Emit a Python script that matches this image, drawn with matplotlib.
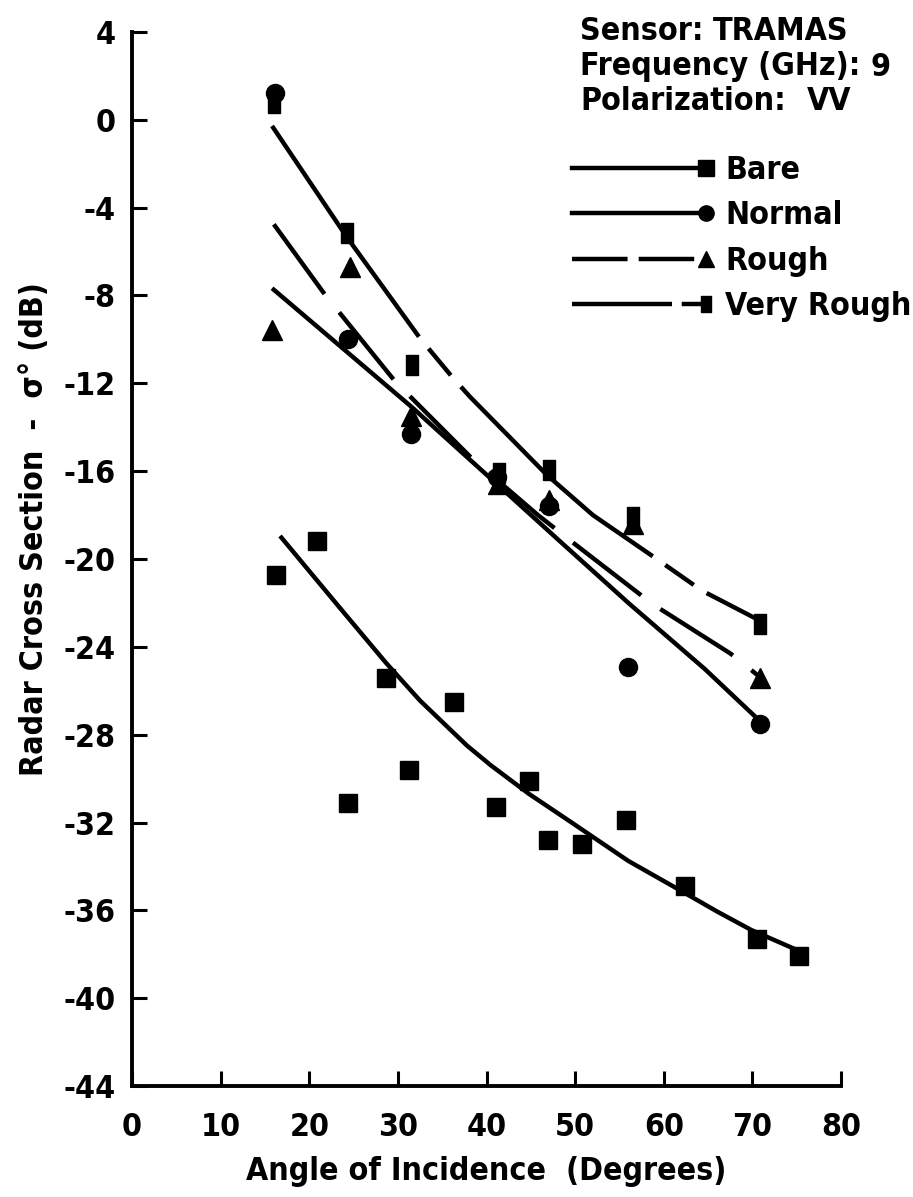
import matplotlib
matplotlib.use('Agg')
import matplotlib.pyplot as plt
from matplotlib.lines import Line2D

plt.rcParams['font.family'] = ['DejaVu Sans']
plt.rcParams['font.stretch'] = 'condensed'
plt.rcParams['font.weight'] = 'bold'
plt.rcParams['axes.labelweight'] = 'bold'
plt.rcParams['axes.unicode_minus'] = False
plt.rcParams['lines.scale_dashes'] = False

# measured points (angle in degrees, sigma0 in dB)
bare_x = [16.3, 20.9, 24.4, 28.7, 31.3, 36.3, 41.1, 44.8, 46.9, 50.8, 55.7, 62.4, 70.5, 75.3]
bare_y = [-20.75, -19.2, -31.1, -25.4, -29.6, -26.5, -31.3, -30.1, -32.8, -33.0, -31.9, -34.9, -37.3, -38.1]

normal_x = [16.1, 24.4, 31.5, 41.2, 47.1, 56.0, 70.9]
normal_y = [1.2, -10.0, -14.3, -16.25, -17.6, -24.9, -27.5]

rough_x = [15.8, 24.6, 31.5, 41.3, 47.1, 56.5, 70.9]
rough_y = [-9.55, -6.7, -13.5, -16.6, -17.3, -18.4, -25.4]

vrough_x = [16.0, 24.3, 31.6, 41.4, 47.0, 56.5, 70.9]
vrough_y = [0.75, -5.17, -11.16, -16.1, -15.95, -18.1, -22.94]

# fitted curves
bare_fit_x = [16.7, 20.0, 23.4, 28.7, 32.5, 37.8, 40.5, 44.8, 49.6, 56.0, 61.9, 66.0, 69.9, 75.0]
bare_fit_y = [-18.95, -20.55, -22.2, -24.75, -26.45, -28.5, -29.4, -30.7, -32.0, -33.75, -35.1, -36.05, -36.9, -37.8]

normal_fit_x = [15.8, 22.3, 31.5, 41.2, 48.3, 56.0, 64.6, 70.9]
normal_fit_y = [-7.67, -9.9, -13.06, -16.6, -19.2, -22.0, -25.0, -27.4]

rough_fit_x = [16.0, 21.8, 29.7, 38.3, 45.8, 49.9, 57.6, 59.5, 67.5, 69.1, 71.5]
rough_fit_y = [-4.76, -7.98, -11.92, -15.4, -18.0, -19.3, -21.7, -22.25, -24.3, -24.8, -25.6]

vrough_fit_x = [15.8, 24.2, 32.5, 36.1, 38.1, 46.8, 52.0, 59.2, 64.3, 71.0]
vrough_fit_y = [-0.28, -5.32, -9.95, -11.7, -12.6, -16.17, -18.0, -20.0, -21.44, -22.84]

labels = ['Bare', 'Normal', 'Rough', 'Very Rough']
xticks = list(range(0, 81, 10))
yticks = list(range(-44, 5, 4))

lw = 3.2
fs = 23
rough_dash = (62, 17)
vrough_dash = (185, 11, 25, 11)
vr_marker = [(-0.65, -1), (0.65, -1), (0.65, 1), (-0.65, 1), (-0.65, -1)]

fig = plt.figure(figsize=(9.13, 11.97), dpi=100)
ax = fig.add_axes([0.1446, 0.0927, 0.7766, 0.8806])

ax.plot(bare_fit_x, bare_fit_y, color='k', lw=lw, solid_capstyle='butt', solid_joinstyle='round')
ax.plot(normal_fit_x, normal_fit_y, color='k', lw=lw, solid_capstyle='butt', solid_joinstyle='round')
ax.plot(rough_fit_x, rough_fit_y, color='k', lw=lw, dashes=rough_dash, dash_capstyle='butt')
ax.plot(vrough_fit_x, vrough_fit_y, color='k', lw=lw, dashes=vrough_dash, dash_capstyle='butt')

ax.plot(bare_x, bare_y, 's', color='k', ms=13, zorder=3)
ax.plot(normal_x, normal_y, 'o', color='k', ms=13, zorder=3)
ax.plot(rough_x, rough_y, '^', color='k', ms=14, zorder=3)
ax.plot(vrough_x, vrough_y, marker=vr_marker, ls='none', color='k', ms=14, zorder=3)

ax.set_xlim(0, 80)
ax.set_ylim(-44, 4)
ax.set_xticks(xticks)
ax.set_yticks(yticks)
for s in ['top', 'right']:
    ax.spines[s].set_visible(False)
for s in ['left', 'bottom']:
    ax.spines[s].set_linewidth(2.8)
ax.tick_params(direction='in', length=11, width=2.2, labelsize=fs)
ax.tick_params(axis='x', pad=19)
ax.tick_params(axis='y', pad=12)

ax.set_xlabel('Angle of Incidence  (Degrees)', fontsize=fs)
ax.set_ylabel('Radar Cross Section  -  σ° (dB)', fontsize=fs)
ax.xaxis.set_label_coords(0.5, -0.066)
ax.yaxis.set_label_coords(-0.115, 0.528)

# header text
fig.text(580 / 913, 1 - 32 / 1197, 'Sensor:', fontsize=fs, va='center')
fig.text(713 / 913, 1 - 32 / 1197, 'TRAMAS', fontsize=fs, va='center')
fig.text(580 / 913, 1 - 67 / 1197, 'Frequency (GHz):', fontsize=fs, va='center')
fig.text(870 / 913, 1 - 67 / 1197, '9', fontsize=fs, va='center')
fig.text(580 / 913, 1 - 102 / 1197, 'Polarization:', fontsize=fs, va='center')
fig.text(807 / 913, 1 - 102 / 1197, 'VV', fontsize=fs, va='center')

handles = [
    Line2D([], [], color='k', lw=lw, marker='s', ms=11),
    Line2D([], [], color='k', lw=lw, marker='o', ms=11),
    Line2D([], [], color='k', lw=lw, marker='^', ms=12, dashes=(40, 8)),
    Line2D([], [], color='k', lw=lw, marker=vr_marker, ms=12, dashes=(72, 7, 16, 7)),
]
leg = ax.legend(handles, labels, loc='upper left', bbox_to_anchor=(562 / 913, 1 - 155 / 1197),
                bbox_transform=fig.transFigure, frameon=False, numpoints=2,
                handlelength=4.8, handletextpad=0.3, labelspacing=0.45,
                borderpad=0, borderaxespad=0, fontsize=fs)
for ln in leg.get_lines():
    ln.set_markevery([1])

fig.savefig('out.png', dpi=100, facecolor='white')
